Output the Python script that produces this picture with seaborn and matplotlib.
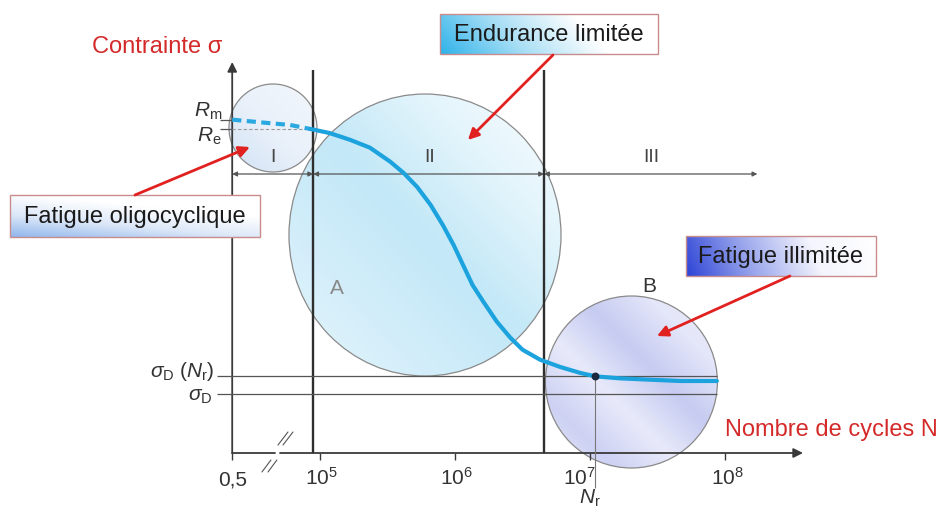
import numpy as np
import seaborn as sns
import matplotlib.pyplot as plt
from matplotlib.patches import Ellipse, Rectangle
from matplotlib.colors import LinearSegmentedColormap

# Wöhler curve, x = log10(N), y = contrainte (schematic units)
log_n_dash = [4.35, 4.56, 4.78, 4.93]
stress_dash = [500, 496, 492, 486]
log_n = [4.93, 5.07, 5.22, 5.37, 5.52, 5.62, 5.72, 5.82, 5.91, 5.99, 6.06,
         6.13, 6.21, 6.31, 6.41, 6.50, 6.63, 6.78, 6.93, 7.04, 7.22, 7.44,
         7.67, 7.94]
stress = [486, 480, 470, 458, 437, 420, 399, 372, 342, 312, 282,
          252, 227, 197, 173, 155, 140, 129, 120, 115, 112, 110,
          108, 108]

Rm, Re = 500, 486
sigma_D, sigma_D_Nr = 88, 115
log_Nr = 7.04

x0 = 4.35  # origin of the broken axis (N = 0,5)
xtick_pos = [x0, 5, 6, 7, 8]
xtick_labels = ['0,5', '$10^5$', '$10^6$', '$10^7$', '$10^8$']
region_edges = [x0, 4.95, 6.66, 8.24]
region_names = ['I', 'II', 'III']

sns.set_style("white")
plt.rcParams['font.family'] = ['Liberation Sans', 'DejaVu Sans']
plt.rcParams['mathtext.fontset'] = 'custom'
plt.rcParams['mathtext.rm'] = 'Liberation Sans'
plt.rcParams['mathtext.it'] = 'Liberation Sans:italic'

fig = plt.figure(figsize=(9.48, 5.13), dpi=100)
ax = fig.add_axes([0, 0, 1, 1])
XLIM, YLIM = (2.63, 9.652), (-90, 679.5)


def gradient(ax, extent, colors, angle, clip=None, zorder=1, alpha=1.0):
    xx, yy = np.meshgrid(np.linspace(0, 1, 200), np.linspace(0, 1, 200))
    a = np.deg2rad(angle)
    t = xx * np.cos(a) + yy * np.sin(a)
    t = (t - t.min()) / (t.max() - t.min())
    cmap = LinearSegmentedColormap.from_list('g', colors)
    im = ax.imshow(t, cmap=cmap, extent=extent, origin='lower', aspect='auto',
                   zorder=zorder, alpha=alpha, interpolation='bilinear')
    if clip is not None:
        im.set_clip_path(clip)
    return im


def circle(ax, xy, w, h, colors, angle):
    e = Ellipse(xy, w, h, facecolor='none', edgecolor='#8a8a8a', lw=0.9, zorder=3)
    ax.add_patch(e)
    ext = [xy[0] - w / 2, xy[0] + w / 2, xy[1] - h / 2, xy[1] + h / 2]
    gradient(ax, ext, colors, angle, clip=e, zorder=2)


def label_box(ax, x0_, x1_, y0_, y1_, text, colors, angle):
    gradient(ax, [x0_, x1_, y0_, y1_], colors, angle, zorder=6)
    ax.add_patch(Rectangle((x0_, y0_), x1_ - x0_, y1_ - y0_, facecolor='none',
                           edgecolor='#c98c8c', lw=1.0, zorder=7))
    ax.text((x0_ + x1_) / 2, (y0_ + y1_) / 2 - 2, text, ha='center', va='center',
            fontsize=17, color='#1a1a1a', zorder=8)


# circles I, A, B
circle(ax, (4.652, 487.5), 0.652, 132, ['#d2e2f5', '#eaf1fa', '#f3f7fc'], 45)
circle(ax, (5.778, 327), 2.015, 423,
       ['#e6f6fc', '#d3eefa', '#c3e8f7', '#e4f5fc', '#f9fdfe'], 45)
circle(ax, (7.307, 106.5), 1.274, 258,
       ['#eceefb', '#cdd1f3', '#e8eafa', '#c6cbf1', '#e4e6f9', '#eef0fb'], 45)

# axes with arrows
ax.plot([x0, 4.667], [0, 0], color='#3a3a3a', lw=1.3, zorder=5)
ax.annotate('', xy=(8.578, 0), xytext=(4.704, 0), zorder=5,
            arrowprops=dict(arrowstyle='-|>', color='#3a3a3a', lw=1.3,
                            mutation_scale=14, shrinkA=0, shrinkB=0))
ax.annotate('', xy=(x0, 586.5), xytext=(x0, 0), zorder=5,
            arrowprops=dict(arrowstyle='-|>', color='#3a3a3a', lw=1.3,
                            mutation_scale=14, shrinkA=0, shrinkB=0))

# axis break marks
for (xa, ya, xb, yb) in [(4.689, 12, 4.763, 31.5), (4.726, 12, 4.80, 31.5),
                         (4.570, -28.5, 4.637, -10.5), (4.615, -28.5, 4.681, -10.5)]:
    ax.plot([xa, xb], [ya, yb], color='#555555', lw=0.8, zorder=5)

# x ticks (10^7 label sits left of the N_r line)
ax.vlines(xtick_pos, -10, 0, color='#3a3a3a', lw=1.0, zorder=5)
label_shift = [0, 0.01, 0.01, -0.08, 0.02]
for xp, lab, dx in zip(xtick_pos, xtick_labels, label_shift):
    ax.text(xp + dx, -48, lab, ha='center', va='baseline', fontsize=15, color='#333333')

# domain boundaries
ax.vlines(region_edges[1:3], 0, 574.5, color='#2e2e2e', lw=1.7, zorder=5)

# horizontal reference levels
ax.hlines([sigma_D_Nr, sigma_D], 4.24, 7.94, color='#555555', lw=0.9, zorder=5)
ax.hlines([Rm, Re], 4.26, x0, color='#555555', lw=0.9, zorder=5)
ax.plot([x0, 4.95], [Re, Re], color='#9a9a9a', lw=0.8, ls=(0, (3, 2)), zorder=5)
ax.vlines(log_Nr, -52, sigma_D_Nr, color='#777777', lw=0.8, zorder=5)

# region arrows
for (a, b), name in zip(zip(region_edges[:-1], region_edges[1:]), region_names):
    ax.annotate('', xy=(b, 418.5), xytext=(a, 418.5), zorder=5,
                arrowprops=dict(arrowstyle='<|-|>', color='#555555', lw=0.9,
                                mutation_scale=7, shrinkA=0, shrinkB=0))
    ax.text((a + b) / 2 + 0.005, 443, name, ha='center', va='center',
            fontsize=14, color='#444444')

# S-N curve
sns.lineplot(x=log_n_dash, y=stress_dash, ax=ax, sort=False, color='#2aa8e0',
             lw=3, linestyle=(0, (2.2, 1.3)), zorder=6)
sns.lineplot(x=log_n, y=stress, ax=ax, sort=False, color='#1ca3dd', lw=3, zorder=6)
ax.scatter([log_Nr], [sigma_D_Nr], s=22, color='#1b2740', zorder=7)

# y labels
ax.text(4.274, 512, '$R_\\mathrm{m}$', ha='right', va='center', fontsize=15, color='#333333')
ax.text(4.274, 475, '$R_\\mathrm{e}$', ha='right', va='center', fontsize=15, color='#333333')
ax.text(4.222, 122, '$\\sigma_\\mathrm{D}$ ($N_\\mathrm{r}$)', ha='right', va='center',
        fontsize=15, color='#333333')
ax.text(4.207, 84, '$\\sigma_\\mathrm{D}$', ha='right', va='center', fontsize=15, color='#333333')
ax.text(log_Nr - 0.04, -76, '$N_\\mathrm{r}$', ha='center', va='baseline',
        fontsize=15, color='#333333')

ax.text(5.126, 247.5, 'A', ha='center', va='center', fontsize=15, color='#8a8a8a', zorder=6)
ax.text(7.437, 249, 'B', ha='center', va='center', fontsize=15, color='#333333', zorder=6)

# axis titles
ax.text(4.274, 609, 'Contrainte σ', ha='right', va='center', fontsize=17, color='#d42a2a')
ax.text(8.0, 34.5, 'Nombre de cycles N', ha='left', va='center', fontsize=17, color='#d42a2a')

# callout boxes
label_box(ax, 5.889, 7.504, 598.5, 658.5, 'Endurance limitée',
          ['#2fb3ea', '#a8def5', '#ffffff', '#ffffff'], 10)
label_box(ax, 2.704, 4.556, 324, 387, 'Fatigue oligocyclique',
          ['#90b6ec', '#dbe7f8', '#ffffff', '#ffffff'], 60)
label_box(ax, 7.711, 9.119, 265.5, 325.5, 'Fatigue illimitée',
          ['#2d44d6', '#9aa6ec', '#f4f5fd', '#ffffff'], 5)

# red arrows
for (xs, ys, xe, ye) in [(6.726, 597, 6.096, 469.5),
                         (3.63, 387, 4.481, 459),
                         (8.481, 265.5, 7.496, 175.5)]:
    ax.annotate('', xy=(xe, ye), xytext=(xs, ys), zorder=9,
                arrowprops=dict(arrowstyle='-|>', color='#e0211f', lw=2.0,
                                mutation_scale=16, shrinkA=0, shrinkB=0))

ax.set_xlim(*XLIM)
ax.set_ylim(*YLIM)
ax.axis('off')
fig.savefig('out.png', dpi=100)
